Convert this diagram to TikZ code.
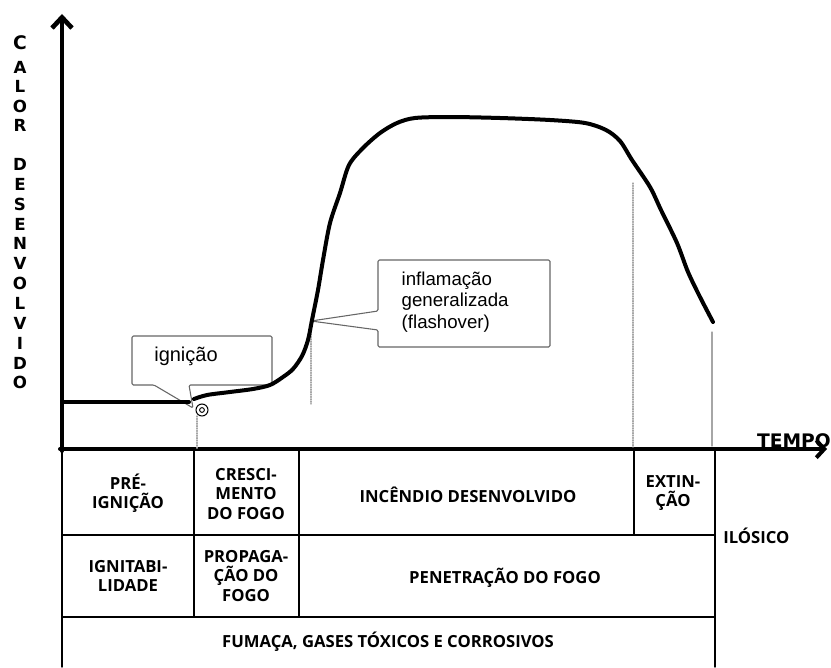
\documentclass[tikz,border=0pt]{standalone}
\usepackage{fontspec}
\usepackage{tikz}
\usetikzlibrary{arrows.meta}
\newfontfamily\tabfont{Open Sans}
\newfontfamily\balaofont{Liberation Sans}
\newfontfamily\eixofont{DejaVu Sans}

\begin{document}
\begin{tikzpicture}[line cap=round,line join=round,x=0.75pt,y=-0.75pt,
celula/.style={align=center,font=\tabfont\bfseries\fontsize{12.5}{14.5}\selectfont,inner sep=0pt},
letra/.style={font=\eixofont\bfseries\fontsize{12.5}{13}\selectfont,inner sep=0pt},
balao/.style={draw=gray!80!black,line width=0.8pt,fill=white,rounded corners=1pt},
guia/.style={gray!70,line width=0.8pt,densely dotted}]
\useasboundingbox (0,0) rectangle (831,667);
% Eixos
\draw[line width=3pt,-{Straight Barb[length=8pt,width=15pt,line width=3.5pt]}] (62,451) -- (62,14);
\draw[line width=3pt,-{Straight Barb[length=6pt,width=13pt,line width=3pt]}] (60,449) -- (827,449);
\node[letra,font=\eixofont\bfseries\fontsize{14}{14}\selectfont] (c0) at (20,43) {C};
\foreach \l/\y [count=\i] in {A/67,L/86,O/106,R/125,D/164,E/184,S/204,E/224,N/243,V/263,O/283,L/303,V/323,I/343,D/363,O/382}
\node[letra] (l\i) at (20,\y) {\l};
\node[letra,font=\eixofont\bfseries\fontsize{14}{14}\selectfont,anchor=base east] (tempo) at (831,447) {TEMPO};
% Linhas guia
\draw[guia] (197,416) -- (197,449);
\draw[guia] (311,322) -- (311,404);
\draw[guia] (633,183) -- (633,447);
\draw[gray!70,line width=0.8pt] (712,332) -- (712,446);
% Baloes
\draw[balao] (132,336) -- (272,336) -- (272,385) -- (189,385) -- (193,408) -- (154,385) -- (132,385) -- cycle;
\node[font=\balaofont\fontsize{15}{16}\selectfont] (ign) at (186,356) {ignição};
\draw[balao] (378,260) -- (550,260) -- (550,347) -- (378,347) -- (378,330) -- (311,321) -- (378,311) -- cycle;
\node[font=\balaofont\fontsize{14}{16}\selectfont,align=left,anchor=base west] (flash) at (397,328) {inflamação\\generalizada\\(flashover)};
% Curva
\draw[line width=3pt] (62,402) -- (189,402);
\draw[line width=3pt] plot[smooth,tension=0.5] coordinates {(194,399) (207,395) (230,392) (253,389) (270,385) (283,377) (293,369) (302,356) (308,340) (312,320) (318,290) (323,260) (330,223) (340,193) (349,165) (363,148) (380,133) (397,123) (415,118) (450,117) (500,118) (550,120) (585,123) (606,130) (620,141) (632,160) (650,187) (661,210) (677,243) (688,272) (700,297) (713,322)};
\draw[line width=0.8pt] (202,410) circle (4.5pt);
\draw[line width=0.7pt] (202,410) circle (1.8pt);
% Tabela
\draw[line width=1.1pt] (62,449) -- (62,667);
\draw[line width=1.1pt] (715,449) -- (715,667);
\draw[line width=1.1pt] (194,449) -- (194,617);
\draw[line width=1.1pt] (299,449) -- (299,617);
\draw[line width=1.1pt] (634,449) -- (634,535);
\draw[line width=1.1pt] (62,535) -- (715,535);
\draw[line width=1.1pt] (62,617) -- (715,617);
\node[celula] (prei) at (128,493) {PRÉ-\\IGNIÇÃO};
\node[celula] (cresc) at (246,494) {CRESCI-\\MENTO\\DO FOGO};
\node[celula] (incend) at (468,495) {INCÊNDIO DESENVOLVIDO};
\node[celula] (extin) at (673,493) {EXTIN-\\ÇÃO};
\node[celula] (ignit) at (128,576) {IGNITABI-\\LIDADE};
\node[celula] (propag) at (246,576) {PROPAGA-\\ÇÃO DO\\FOGO};
\node[celula] (penet) at (505,578) {PENETRAÇÃO DO FOGO};
\node[celula] (fumaca) at (388,642) {FUMAÇA, GASES TÓXICOS E CORROSIVOS};
\node[celula,anchor=west] (ilos) at (723,536) {ILÓSICO};
\end{tikzpicture}
\end{document}
